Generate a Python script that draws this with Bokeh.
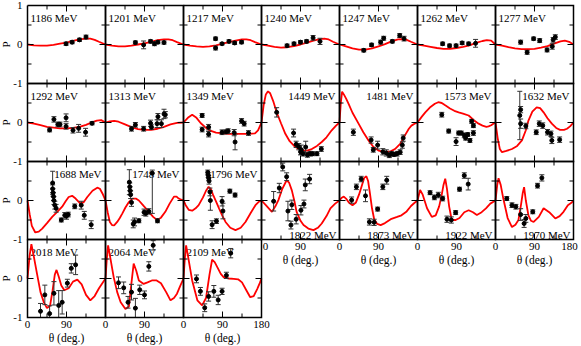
import math
from bokeh.plotting import figure
from bokeh.models import Range1d, Label
from bokeh.embed import file_html
from bokeh.resources import INLINE

# ---------------- data (theta in deg, P) ----------------
energies = [1186, 1201, 1217, 1240, 1247, 1262, 1277,
            1292, 1313, 1349, 1449, 1481, 1573, 1632,
            1688, 1748, 1796, 1822, 1873, 1922, 1970,
            2018, 2064, 2109]
title_pos = ["tl"] * 7 + ["tl"] * 3 + ["tr"] * 4 + ["tr"] * 3 + ["br"] * 4 + ["tl"] * 3
x_ticks = [0, 90]
x_tick_labels = ["0", "90"]
y_tick_labels = ["1", "0", "-1"]

th_1186 = [89, 103, 120, 135]
p_1186 = [0.02, 0.06, 0.12, 0.19]
e_1186 = [0.04, 0.04, 0.04, 0.05]
cth_1186 = [0, 15, 30, 45, 60, 75, 90, 105, 120, 135, 145, 155, 165, 180]
cp_1186 = [0, -0.02, -0.03, -0.03, -0.01, 0.02, 0.05, 0.09, 0.13, 0.15, 0.15, 0.12, 0.07, 0]

th_1201 = [69, 88, 104, 113, 121, 135]
p_1201 = [0.05, -0.01, 0.08, 0.02, 0.06, 0.05]
e_1201 = [0.04, 0.1, 0.04, 0.05, 0.04, 0.04]
cth_1201 = [0, 15, 30, 45, 60, 75, 90, 105, 120, 135, 145, 155, 165, 180]
cp_1201 = [0, -0.03, -0.05, -0.05, -0.03, 0.0, 0.03, 0.07, 0.11, 0.13, 0.13, 0.11, 0.06, 0]

th_1217 = [74, 74, 89, 105, 118, 134]
p_1217 = [0.15, -0.09, 0.02, 0.08, 0.04, 0.06]
e_1217 = [0.04, 0.05, 0.03, 0.04, 0.04, 0.04]
cth_1217 = [0, 15, 30, 45, 60, 75, 90, 105, 120, 135, 145, 155, 165, 180]
cp_1217 = [0, -0.03, -0.05, -0.06, -0.05, -0.02, 0.02, 0.06, 0.10, 0.13, 0.13, 0.11, 0.06, 0]

th_1240 = [59, 75, 90, 104, 119, 135]
p_1240 = [-0.03, 0.02, 0.06, 0.08, 0.17, 0.08]
e_1240 = [0.04, 0.04, 0.04, 0.04, 0.06, 0.08]
cth_1240 = [0, 15, 30, 45, 60, 75, 90, 105, 120, 135, 145, 155, 165, 180]
cp_1240 = [0, -0.03, -0.06, -0.08, -0.07, -0.04, 0.0, 0.05, 0.10, 0.14, 0.15, 0.13, 0.07, 0]

th_1247 = [56, 74, 95, 102, 122, 139, 149]
p_1247 = [-0.15, -0.01, 0.06, 0.16, 0.08, 0.23, 0.15]
e_1247 = [0.04, 0.04, 0.05, 0.05, 0.04, 0.05, 0.06]
cth_1247 = [0, 15, 30, 45, 60, 75, 90, 105, 120, 135, 145, 155, 165, 180]
cp_1247 = [0, -0.05, -0.10, -0.13, -0.13, -0.10, -0.05, 0.01, 0.08, 0.13, 0.14, 0.12, 0.07, 0]

th_1262 = [58, 74, 89, 103, 118, 134]
p_1262 = [0.02, -0.03, -0.03, 0.04, 0.02, 0.03]
e_1262 = [0.04, 0.04, 0.04, 0.04, 0.04, 0.1]
cth_1262 = [0, 15, 30, 45, 60, 75, 90, 105, 120, 135, 150, 160, 170, 180]
cp_1262 = [0, -0.03, -0.06, -0.09, -0.11, -0.11, -0.09, -0.06, -0.02, 0.04, 0.09, 0.11, 0.10, 0]

th_1277 = [58, 73, 88, 102, 119, 131, 133, 138]
p_1277 = [0.06, -0.2, 0.15, 0.1, -0.14, -0.05, 0.12, 0.19]
e_1277 = [0.05, 0.05, 0.04, 0.05, 0.05, 0.07, 0.06, 0.06]
cth_1277 = [0, 15, 30, 45, 60, 75, 90, 105, 120, 135, 150, 160, 170, 180]
cp_1277 = [0, -0.03, -0.07, -0.10, -0.12, -0.12, -0.11, -0.08, -0.04, 0.02, 0.08, 0.10, 0.07, 0]

th_1292 = [51, 61, 70, 75, 89, 89, 105, 118, 134, 149]
p_1292 = [-0.19, 0.08, -0.05, -0.05, 0.12, -0.1, -0.2, -0.15, -0.25, -0.02]
e_1292 = [0.05, 0.07, 0.06, 0.06, 0.1, 0.07, 0.07, 0.1, 0.1, 0.04]
cth_1292 = [0, 15, 30, 45, 60, 75, 90, 105, 120, 135, 150, 160, 170, 180]
cp_1292 = [0, -0.03, -0.07, -0.11, -0.13, -0.15, -0.15, -0.14, -0.11, -0.06, 0.01, 0.05, 0.06, 0]

th_1313 = [60, 69, 88, 104, 106, 119, 121, 129, 135, 138]
p_1313 = [-0.16, -0.06, -0.16, -0.02, -0.12, -0.03, 0.15, -0.03, 0.22, 0.2]
e_1313 = [0.06, 0.06, 0.06, 0.08, 0.06, 0.1, 0.08, 0.1, 0.12, 0.08]
cth_1313 = [0, 10, 20, 30, 45, 60, 75, 90, 105, 120, 135, 150, 165, 180]
cp_1313 = [0, 0.03, 0.04, 0.02, -0.05, -0.12, -0.17, -0.19, -0.19, -0.16, -0.11, -0.05, -0.01, 0]

th_1349 = [43, 43, 58, 58, 89, 98, 103, 117, 119, 134, 140, 150]
p_1349 = [0.18, -0.18, -0.12, -0.3, -0.25, -0.24, -0.22, -0.26, -0.5, 0.04, -0.03, -0.27]
e_1349 = [0.05, 0.06, 0.07, 0.07, 0.06, 0.05, 0.06, 0.08, 0.2, 0.06, 0.06, 0.06]
cth_1349 = [0, 10, 20, 30, 40, 50, 60, 75, 90, 105, 120, 135, 150, 165, 172, 180]
cp_1349 = [0, 0.12, 0.2, 0.12, -0.02, -0.12, -0.2, -0.26, -0.28, -0.29, -0.29, -0.29, -0.29, -0.28, -0.2, 0]

th_1449 = [35, 74, 80, 86, 90, 92, 96, 102, 106, 112, 118, 128, 138]
p_1449 = [0.26, -0.27, -0.56, -0.62, -0.75, -0.7, -0.8, -0.63, -0.83, -0.8, -0.8, -0.8, -0.68]
e_1449 = [0.12, 0.1, 0.08, 0.08, 0.08, 0.12, 0.06, 0.15, 0.06, 0.06, 0.05, 0.05, 0.06]
cth_1449 = [0, 5, 10, 15, 20, 27, 35, 45, 55, 65, 78, 93, 105, 116, 128, 139, 150, 162, 172, 180]
cp_1449 = [0, 0.45, 0.72, 0.8, 0.75, 0.55, 0.26, -0.02, -0.29, -0.48, -0.63, -0.72, -0.72, -0.68, -0.6, -0.5, -0.38, -0.2, -0.08, 0]

th_1481 = [32, 73, 78, 88, 100, 108, 115, 120, 126, 133, 140, 145, 147]
p_1481 = [-0.25, -0.45, -0.7, -0.58, -0.75, -0.78, -0.84, -0.8, -0.82, -0.8, -0.76, -0.58, -0.4]
e_1481 = [0.08, 0.08, 0.06, 0.1, 0.08, 0.08, 0.06, 0.06, 0.05, 0.06, 0.06, 0.08, 0.08]
cth_1481 = [0, 3, 6, 10, 15, 21, 30, 44, 55, 67, 78, 90, 105, 118, 128, 140, 151, 160, 166, 175, 180]
cp_1481 = [0, 0.5, 0.79, 0.72, 0.62, 0.48, 0.25, -0.03, -0.25, -0.46, -0.62, -0.72, -0.76, -0.74, -0.68, -0.55, -0.33, -0.16, -0.08, -0.02, 0]

th_1573 = [56, 72, 89, 95, 101, 108, 111, 116, 121, 125, 129, 129]
p_1573 = [0.2, -0.22, -0.49, -0.27, -0.27, -0.33, -0.4, -0.31, -0.46, 0.03, -0.08, -0.27]
e_1573 = [0.06, 0.05, 0.1, 0.05, 0.05, 0.06, 0.05, 0.05, 0.05, 0.05, 0.05, 0.06]
cth_1573 = [0, 10, 18, 30, 40, 48, 56, 64, 75, 85, 95, 105, 118, 130, 141, 150, 159, 164, 170, 175, 180]
cp_1573 = [0, 0.15, 0.26, 0.4, 0.48, 0.52, 0.5, 0.44, 0.36, 0.3, 0.26, 0.23, 0.18, 0.06, -0.03, -0.08, -0.11, -0.1, -0.07, -0.03, 0]

th_1632 = [56, 58, 58, 70, 94, 101, 109, 120, 128, 130, 148]
p_1632 = [0.18, 0.33, -0.03, -0.09, -0.25, -0.03, -0.08, -0.25, -0.29, -0.46, -0.44]
e_1632 = [0.62, 0.08, 0.12, 0.07, 0.06, 0.07, 0.07, 0.07, 0.07, 0.08, 0.07]
cth_1632 = [0, 5, 10, 15, 25, 38, 50, 61, 70, 76, 85, 95, 103, 111, 120, 130, 140, 149, 158, 165, 172, 180]
cp_1632 = [0, -0.4, -0.68, -0.76, -0.73, -0.68, -0.6, -0.46, -0.2, 0.05, 0.28, 0.39, 0.37, 0.26, 0.11, -0.03, -0.14, -0.19, -0.19, -0.16, -0.1, 0]

th_1688 = [58, 58, 59, 60, 61, 63, 66, 78, 86, 90, 94, 109, 124, 131, 147]
p_1688 = [0.45, 0.3, 0.2, 0.1, 0.0, -0.12, -0.2, -0.5, -0.38, -0.4, -0.36, -0.15, -0.12, -0.38, -0.62]
e_1688 = [0.3, 0.1, 0.1, 0.1, 0.1, 0.1, 0.1, 0.05, 0.07, 0.08, 0.06, 0.06, 0.1, 0.1, 0.1]
cth_1688 = [0, 5, 10, 18, 26, 34, 45, 57, 68, 80, 88, 95, 103, 111, 122, 130, 138, 150, 161, 167, 173, 180]
cp_1688 = [0, -0.35, -0.65, -0.82, -0.8, -0.72, -0.58, -0.42, -0.3, -0.16, -0.02, 0.09, 0.12, 0.05, -0.08, -0.04, 0.09, 0.25, 0.33, 0.3, 0.18, 0]

th_1748 = [55, 56, 57, 58, 60, 64, 67, 77, 89, 93, 100, 108, 120]
p_1748 = [0.47, 0.35, 0.25, 0.15, -0.05, -0.6, -0.55, -0.52, -0.3, -0.33, -0.28, 0.7, -0.52]
e_1748 = [0.32, 0.1, 0.1, 0.1, 0.1, 0.1, 0.1, 0.05, 0.08, 0.07, 0.07, (1.03, 0.08), 0.05]
cth_1748 = [0, 5, 10, 15, 20, 27, 33, 39, 46, 54, 62, 70, 77, 88, 100, 110, 119, 128, 138, 148, 158, 164, 169, 175, 180]
cp_1748 = [0, -0.3, -0.55, -0.63, -0.64, -0.55, -0.45, -0.33, -0.18, -0.04, 0.05, 0.05, 0.0, -0.14, -0.29, -0.42, -0.5, -0.44, -0.29, -0.08, 0.1, 0.1, 0.05, 0.02, 0]

th_1796 = [56, 57, 58, 59, 61, 62, 66, 76, 89, 91, 107, 119]
p_1796 = [0.72, 0.65, 0.58, 0.5, 0.22, 0.0, -0.62, -0.53, -0.02, -0.27, 0.24, 0.14]
e_1796 = [0.06, 0.06, 0.06, 0.08, 0.1, 0.25, 0.1, 0.06, 0.12, 0.2, 0.05, 0.05]
cth_1796 = [0, 5, 12, 20, 28, 35, 45, 52, 58, 63, 68, 75, 82, 90, 97, 108, 120, 132, 143, 155, 166, 173, 180]
cp_1796 = [0, -0.12, -0.24, -0.26, -0.2, -0.12, 0.08, 0.25, 0.35, 0.3, 0.15, -0.02, -0.2, -0.4, -0.55, -0.7, -0.76, -0.7, -0.55, -0.32, -0.12, -0.04, 0]

th_1822 = [28, 41, 49, 58, 61, 68, 70, 80, 91, 98, 101, 111]
p_1822 = [-0.02, 0.32, 0.86, 0.61, -0.27, -0.63, -0.11, -0.48, -0.25, -0.09, 0.4, 0.55]
e_1822 = [0.25, 0.12, 0.1, 0.1, 0.25, 0.1, 0.12, 0.12, 0.12, 0.1, 0.15, 0.12]
cth_1822 = [0, 10, 24, 32, 39, 48, 58, 64, 70, 76, 81, 90, 97, 108, 120, 130, 139, 150, 159, 170, 180]
cp_1822 = [0, -0.12, -0.29, -0.15, 0.01, 0.3, 0.52, 0.45, 0.26, -0.02, -0.29, -0.52, -0.63, -0.72, -0.76, -0.7, -0.59, -0.4, -0.2, -0.08, 0]

th_1873 = [28, 39, 50, 60, 69, 80, 88, 100, 109]
p_1873 = [0.01, 0.35, 0.55, 0.12, -0.55, -0.56, -0.22, 0.35, 0.52]
e_1873 = [0.08, 0.07, 0.07, 0.15, 0.08, 0.08, 0.05, 0.07, 0.1]
cth_1873 = [0, 5, 10, 15, 22, 30, 38, 45, 52, 57, 62, 66, 70, 75, 80, 87, 95, 105, 120, 133, 143, 155, 165, 172, 180]
cp_1873 = [0, 0.07, 0.1, 0.05, -0.06, -0.12, -0.05, 0.15, 0.4, 0.58, 0.62, 0.5, 0.2, -0.2, -0.48, -0.6, -0.63, -0.58, -0.47, -0.42, -0.38, -0.28, -0.14, -0.07, 0]

th_1922 = [29, 39, 48, 58, 68, 78, 88, 97, 108, 117]
p_1922 = [0.2, 0.08, 0.14, 0.05, -0.48, -0.5, -0.31, 0.29, 0.64, 0.42]
e_1922 = [0.05, 0.06, 0.07, 0.06, 0.08, 0.08, 0.05, 0.05, 0.07, 0.15]
cth_1922 = [0, 6, 12, 22, 33, 42, 50, 56, 60, 64, 68, 73, 79, 88, 97, 108, 118, 128, 137, 148, 158, 168, 180]
cp_1922 = [0, 0.27, 0.15, -0.2, -0.42, -0.38, -0.15, 0.15, 0.4, 0.56, 0.3, -0.15, -0.5, -0.5, -0.45, -0.3, -0.25, -0.3, -0.37, -0.3, -0.2, -0.08, 0]

th_1970 = [26, 38, 47, 58, 66, 70, 86, 97, 107]
p_1970 = [0.05, -0.12, -0.16, -0.36, -0.59, -0.46, -0.29, 0.38, 0.58]
e_1970 = [0.05, 0.06, 0.06, 0.15, 0.1, 0.1, 0.05, 0.06, 0.08]
cth_1970 = [0, 4, 7, 12, 18, 28, 38, 46, 53, 59, 63, 66, 70, 76, 82, 88, 100, 111, 124, 138, 148, 157, 167, 176, 180]
cp_1970 = [0, 0.4, 0.57, 0.4, 0.05, -0.45, -0.68, -0.62, -0.5, -0.1, 0.2, 0.34, 0.0, -0.38, -0.52, -0.55, -0.42, -0.2, -0.3, -0.46, -0.4, -0.29, -0.12, -0.05, 0]

th_2018 = [30, 40, 51, 61, 72, 80, 92, 101, 111]
p_2018 = [-0.84, -0.42, -0.9, -0.38, -0.69, -0.61, -0.12, 0.26, 0.35]
e_2018 = [0.2, 0.25, 0.2, 0.3, 0.38, 0.3, 0.1, 0.12, 0.25]
cth_2018 = [0, 5, 9, 14, 22, 30, 38, 45, 52, 58, 63, 67, 72, 78, 85, 95, 105, 115, 125, 135, 145, 155, 165, 180]
cp_2018 = [0, 0.6, 0.88, 0.6, 0.12, -0.35, -0.62, -0.76, -0.7, -0.3, 0.1, 0.22, 0.05, -0.18, -0.3, -0.25, -0.08, -0.03, -0.15, -0.42, -0.56, -0.45, -0.25, 0]

th_2064 = [30, 42, 52, 60, 69, 79, 90, 100, 110]
p_2064 = [-0.11, -0.24, -0.61, -0.35, -0.76, -0.29, -0.42, 0.31, 0.85]
e_2064 = [0.15, 0.15, 0.15, 0.2, 0.25, 0.12, 0.1, 0.12, 0.12]
cth_2064 = [0, 3, 6, 10, 19, 27, 35, 46, 54, 59, 65, 71, 77, 88, 97, 107, 118, 128, 140, 150, 158, 165, 172, 180]
cp_2064 = [0, 0.5, 0.85, 0.6, 0.03, -0.35, -0.61, -0.78, -0.72, -0.2, 0.38, 0.2, -0.05, -0.14, -0.1, -0.05, -0.05, -0.12, -0.35, -0.56, -0.5, -0.39, -0.2, 0]

th_2109 = [30, 39, 49, 58, 70, 80, 89, 99, 109]
p_2109 = [-0.01, -0.33, -0.75, -0.46, -0.33, -0.55, -0.33, 0.08, 0.65]
e_2109 = [0.1, 0.1, 0.1, 0.12, 0.15, 0.12, 0.08, 0.08, 0.12]
cth_2109 = [0, 3, 6, 10, 20, 32, 43, 52, 60, 66, 72, 78, 86, 93, 105, 116, 126, 135, 145, 154, 162, 170, 176, 180]
cp_2109 = [0, 0.5, 0.85, 0.6, -0.05, -0.56, -0.69, -0.5, 0.1, 0.48, 0.42, 0.29, 0.12, 0.03, 0.0, -0.01, -0.02, -0.1, -0.3, -0.48, -0.45, -0.27, -0.12, 0]

# ---------------- layout ----------------
NC, NR = 7, 4
W, H = 78, 78                   # panel size in px
CW, CH = 580, 345               # canvas size in px
LM, TM = 27, 5                  # left / top margin to the panel grid
RM = CW - LM - NC * W
BM = CH - TM - NR * H
SX = 180.0 / W                  # degrees per px
SY = 2.0 / H                    # P units per px
FONT = "Liberation Serif"

p = figure(frame_width=CW, frame_height=CH,
           x_range=Range1d(-LM * SX, NC * 180 + RM * SX),
           y_range=Range1d(1 - 2 * NR - BM * SY, 1 + TM * SY),
           x_axis_type=None, y_axis_type=None,
           min_border_left=0, min_border_right=0, min_border_top=0, min_border_bottom=0,
           output_backend="svg", toolbar_location=None)
p.outline_line_color = None
p.background_fill_color = "white"
p.border_fill_color = "white"

G = globals()
fx, fy = [], []
tx0, ty0, tx1, ty1 = [], [], [], []
cxs, cys = [], []
px, py = [], []
bx, by0, by1 = [], [], []
kx0, kx1, ky = [], [], []
for i, E in enumerate(energies):
    r, c = divmod(i, NC)
    ox, oy = 180.0 * c, -2.0 * r
    fx.append([ox, ox + 180, ox + 180, ox, ox])
    fy.append([oy + 1, oy + 1, oy - 1, oy - 1, oy + 1])
    for yv, L in [(-0.5, 4), (0.0, 6), (0.5, 4)]:
        tx0 += [ox, ox + 180]; tx1 += [ox + L * SX, ox + 180 - L * SX]
        ty0 += [oy + yv, oy + yv]; ty1 += [oy + yv, oy + yv]
    for xv, L in [(45, 4), (90, 6), (135, 4)]:
        tx0 += [ox + xv, ox + xv]; tx1 += [ox + xv, ox + xv]
        ty0 += [oy - 1, oy + 1]; ty1 += [oy - 1 + L * SY, oy + 1 - L * SY]
    cxs.append([ox + t for t in G["cth_%d" % E]])
    cys.append([oy + v for v in G["cp_%d" % E]])
    for t, v, e in zip(G["th_%d" % E], G["p_%d" % E], G["e_%d" % E]):
        dn, up = (e if isinstance(e, tuple) else (e, e))
        lo, hi = v - dn, v + up
        px.append(ox + t); py.append(oy + v)
        bx.append(ox + t); by0.append(oy + max(lo, -1)); by1.append(oy + min(hi, 1))
        for b in (lo, hi):
            if -1 <= b <= 1:
                kx0.append(ox + t - 2.5 * SX); kx1.append(ox + t + 2.5 * SX); ky.append(oy + b)

    # panel title
    pos = title_pos[i]
    if pos == "tl":
        lab = Label(x=ox, y=oy + 1, x_offset=3, y_offset=-6, text_baseline="top", text_align="left")
    elif pos == "tr":
        lab = Label(x=ox + 180, y=oy + 1, x_offset=-4, y_offset=-6, text_baseline="top", text_align="right")
    else:
        lab = Label(x=ox + 180, y=oy - 1, x_offset=-3, y_offset=5, text_baseline="alphabetic", text_align="right")
    lab.text = "%d MeV" % E
    lab.text_font = FONT
    lab.text_font_size = "11px"
    lab.text_color = "black"
    lab.level = "underlay"
    p.add_layout(lab)

p.multi_line(cxs, cys, line_color="#ff0000", line_width=1.8)
p.segment(bx, by0, bx, by1, line_color="#333333", line_width=1)
p.segment(kx0, ky, kx1, ky, line_color="#333333", line_width=1)
p.scatter(px, py, size=4, color="black")
p.segment(tx0, ty0, tx1, ty1, line_color="black", line_width=1)
p.multi_line(fx, fy, line_color="black", line_width=1.5, line_join="miter")

def txt(x, y, s, xo=0, yo=0, align="center", base="middle", size="11px", angle=0.0):
    p.add_layout(Label(x=x, y=y, text=s, x_offset=xo, y_offset=yo, text_align=align,
                       text_baseline=base, text_font=FONT, text_font_size=size,
                       text_color="black", angle=angle))

# y tick labels and P labels
txt(0, 1, y_tick_labels[0], xo=-5, align="right")
for r in range(NR):
    txt(0, -2 * r, y_tick_labels[1], xo=-5, align="right")
    txt(0, -2 * r - 1, y_tick_labels[2], xo=-5, align="right")
    txt(0, -2 * r, "P", xo=-22, angle=math.pi / 2, size="11px")

# x tick labels and axis titles
for c in range(NC):
    rb = 3 if c < 3 else 2
    yb = -2 * rb - 1
    for t, s in zip(x_ticks, x_tick_labels):
        shift = 4 if (c == 3 and t == 0) else 0
        txt(180 * c + t, yb, s, xo=shift, yo=-3, base="top")
    if c in (2, 6):
        txt(180 * c + 180, yb, "180", xo=(-4 if c == 6 else 0), yo=-3, base="top")
    txt(180 * c + 90, yb, "\u03b8 (deg.)", yo=-14, base="top", size="11.5px")

open("out.html", "w").write(file_html(p, INLINE))
